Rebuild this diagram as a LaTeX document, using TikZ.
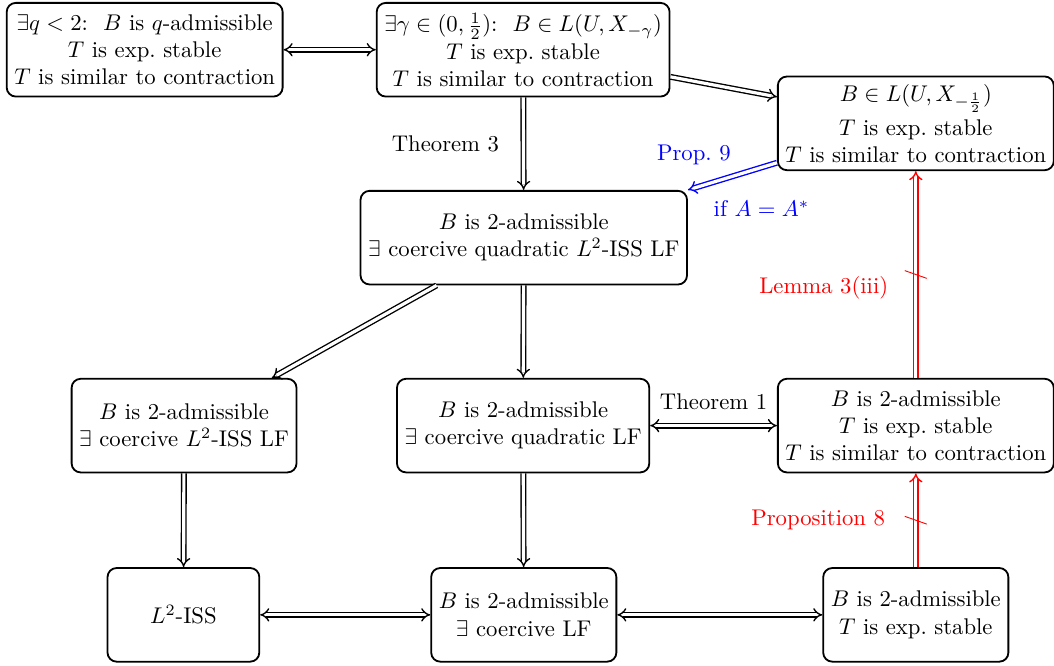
\documentclass[tikz,border=0pt]{standalone}
\usepackage{amsmath,amssymb}
\usetikzlibrary{arrows.meta}
\usetikzlibrary{calc}
\usetikzlibrary{positioning}

\begin{document}
\begin{tikzpicture}[
  box/.style={draw, thick, rounded corners, align=center, minimum height=1.45cm, minimum width=2.35cm},
  imp/.style={double, line width=0.6pt, double distance=1.4pt, -Implies},
  iff/.style={double, line width=0.6pt, double distance=1.4pt, Implies-Implies},
  slash/.style={red}
]
  \useasboundingbox (0,0) rectangle (16.32,-10.31);
  \node [box] (qadm) at (2.24,-0.77) {$\exists q<2$:~~$B$ is $q$-admissible\\ $T$ is exp.\ stable\\ $T$ is similar to contraction};
  \node [box] (gam) at (8.10,-0.77) {$\exists\gamma\in(0,\frac{1}{2})$:~~$B\in L(U,X_{-\gamma})$\\ $T$ is exp.\ stable\\ $T$ is similar to contraction};
  \node [box] (half) at (14.18,-1.91) {$B\in L(U,X_{-\frac{1}{2}})$\\[3pt] $T$ is exp.\ stable\\ $T$ is similar to contraction};
  \node [box] (quadiss) at (8.11,-3.68) {$B$ is 2-admissible\\ $\exists$ coercive quadratic $L^2$-ISS LF};
  \node [box] (lfiss) at (2.85,-6.59) {$B$ is 2-admissible\\ $\exists$ coercive $L^2$-ISS LF};
  \node [box] (quad) at (8.10,-6.59) {$B$ is 2-admissible\\ $\exists$ coercive quadratic LF};
  \node [box] (contr) at (14.18,-6.59) {$B$ is 2-admissible\\ $T$ is exp.\ stable\\ $T$ is similar to contraction};
  \node [box] (iss) at (2.84,-9.52) {$L^2$-ISS};
  \node [box] (lf) at (8.11,-9.52) {$B$ is 2-admissible\\ $\exists$ coercive LF};
  \node [box] (stab) at (14.18,-9.52) {$B$ is 2-admissible\\ $T$ is exp.\ stable};

  \draw [iff] (qadm) -- (gam);
  \draw [imp] ($(gam.east)+(0,-0.42)$) -- ($(half.west)+(0,0.41)$);
  \draw [imp] (gam) -- node [left=0.25cm] {Theorem 3} (quadiss);
  \draw [imp, blue] ($(half.west)+(0,-0.61)$) -- node [above left=0.05cm and -0.1cm] {Prop.\ 9}
    node [below=0.25cm, xshift=0.45cm] {if $A=A^*$} (quadiss.north east);
  \draw [imp, red] (contr) -- coordinate (m1) node [left=0.3cm, yshift=-0.2cm] {Lemma 3(iii)} (half);
  \draw [slash] ($(m1)+(-0.17,0.06)$) -- ($(m1)+(0.17,-0.06)$);
  \draw [imp, red] (stab) -- coordinate (m2) node [left=0.35cm] {Proposition 8} (contr);
  \draw [slash] ($(m2)+(-0.17,0.06)$) -- ($(m2)+(0.17,-0.06)$);
  \draw [imp] ($(quadiss.south)+(-1.35,0)$) -- ($(lfiss.north)+(1.36,0)$);
  \draw [imp] (quadiss) -- (quad);
  \draw [iff] (quad) -- node [above=0.12cm] {Theorem 1} (contr);
  \draw [imp] (lfiss) -- (iss);
  \draw [imp] (quad) -- (lf);
  \draw [iff] (iss) -- (lf);
  \draw [iff] (lf) -- (stab);
\end{tikzpicture}
\end{document}
